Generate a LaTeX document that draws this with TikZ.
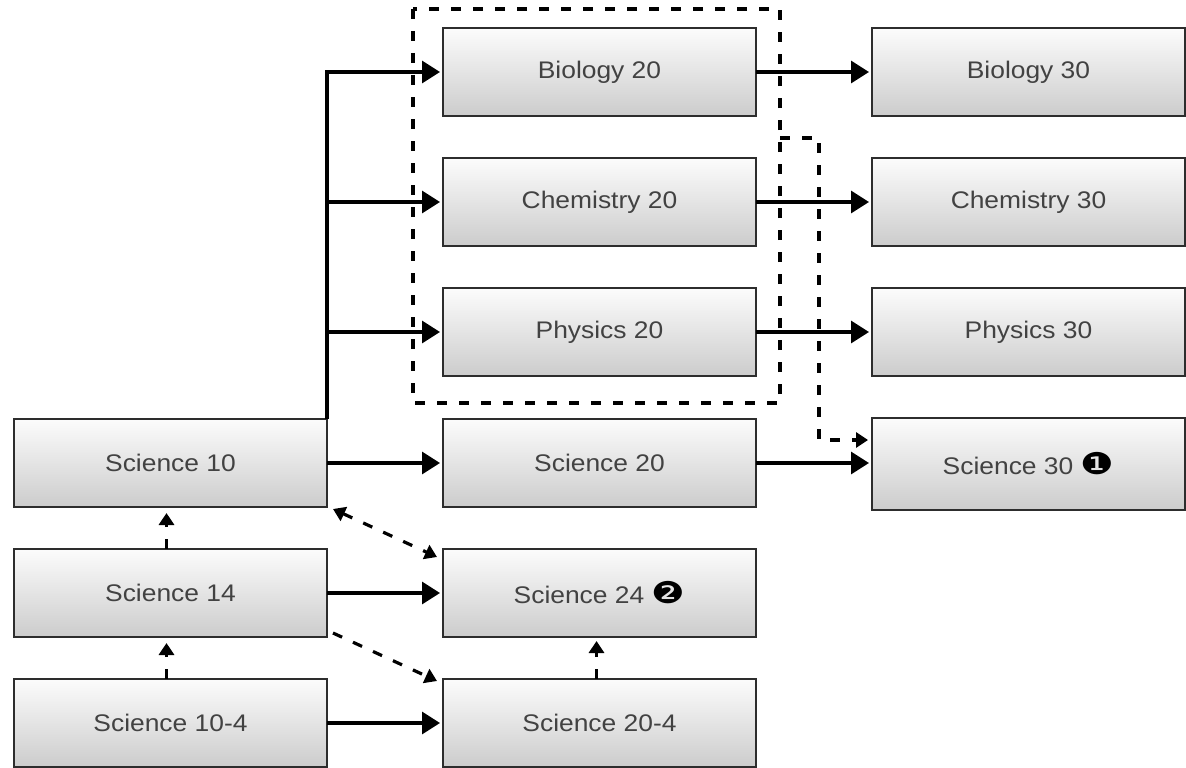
\documentclass[tikz,border=0pt]{standalone}
\usepackage{fontspec}
\setmainfont[FakeStretch=1.1]{Liberation Sans}
\newfontfamily\dejavu{DejaVu Sans}
\usetikzlibrary{arrows.meta,calc}
\definecolor{boxline}{RGB}{45,45,45}
\definecolor{txt}{RGB}{66,66,66}
\definecolor{boxtop}{RGB}{252,252,252}
\definecolor{boxbot}{RGB}{204,204,204}
\newcommand{\mk}[1]{\raisebox{0pt}{\scalebox{1.25}[1]{\textcolor{black}{\dejavu\fontsize{30}{30}\selectfont #1}}}}
\tikzset{
  course/.style={draw=boxline, line width=1.7pt, top color=boxtop, bottom color=boxbot,
    minimum width=313pt, minimum height=88pt, inner sep=0pt, outer sep=0pt, text=txt,
    font=\fontsize{24}{24}\selectfont, anchor=north west},
  solidarrow/.style={line width=3.2pt, -{Triangle[length=18pt,width=22pt]}, shorten >=3pt},
  solidline/.style={line width=3.2pt},
  dasharrow/.style={line width=3.2pt, dash pattern=on 10pt off 12pt, -{Triangle[length=12pt,width=15pt]}},
  dashbidir/.style={line width=3.2pt, dash pattern=on 10pt off 12pt, {Triangle[length=12pt,width=15pt]}-{Triangle[length=12pt,width=15pt]}},
  groupframe/.style={line width=3.2pt, dash pattern=on 10pt off 12pt},
}
\begin{document}
\begin{tikzpicture}[x=1pt,y=-1pt]
\useasboundingbox (0,0) rectangle (1186,768);
\fill[white] (0,0) rectangle (1186,768);

% group frame
\coordinate (grpNW) at (413,9);
\coordinate (grpSE) at (780,403);
\draw[groupframe] (grpNW) rectangle (grpSE);

% nodes
\node[course] (bio20) at (443,28) {Biology 20};
\node[course] (bio30) at (872,28) {Biology 30};
\node[course] (chem20) at (443,158) {Chemistry 20};
\node[course] (chem30) at (872,158) {Chemistry 30};
\node[course] (phys20) at (443,288) {Physics 20};
\node[course] (phys30) at (872,288) {Physics 30};
\node[course] (sci10) at (14,419) {Science 10};
\node[course] (sci20) at (443,419) {Science 20};
\node[course, minimum height=92pt] (sci30) at (872,418) {Science 30 \mk{❶}};
\node[course] (sci14) at (14,549) {Science 14};
\node[course] (sci24) at (443,549) {Science 24 \mk{❷}};
\node[course] (sci104) at (14,679) {Science 10-4};
\node[course] (sci204) at (443,679) {Science 20-4};

% trunk from Science 10
\draw[solidline] (sci10.north east) -- (sci10.north east |- bio20.west);
\draw[solidarrow] (sci10.north east) |- (bio20.west);
\draw[solidarrow] (sci10.north east) |- (chem20.west);
\draw[solidarrow] (sci10.north east) |- (phys20.west);
\draw[solidarrow] (sci10.east) -- (sci20.west);

% 20 -> 30
\draw[solidarrow] (bio20.east) -- (bio30.west);
\draw[solidarrow] (chem20.east) -- (chem30.west);
\draw[solidarrow] (phys20.east) -- (phys30.west);
\draw[solidarrow] (sci20.east) -- (sci20.east -| sci30.west);

% lower rows
\draw[solidarrow] (sci14.east) -- (sci24.west);
\draw[solidarrow] (sci104.east) -- (sci204.west);

% dashed connector from group to Science 30
\coordinate (dstart) at (780,138);
\coordinate (bend) at (819,440);
\draw[dasharrow, shorten >=4pt] (dstart) -| (bend) -- (bend -| sci30.west);

% dashed vertical arrows
\draw[dasharrow, shorten >=6pt] ([xshift=-4pt]sci14.north) -- ([xshift=-4pt]sci10.south);
\draw[dasharrow, shorten >=6pt] ([xshift=-4pt]sci104.north) -- ([xshift=-4pt]sci14.south);
\draw[dasharrow, shorten >=4pt] ([xshift=-3pt]sci204.north) -- ([xshift=-3pt]sci24.south);

% dashed diagonals
\draw[dashbidir] ($(sci10.south east)+(6,2)$) -- ($(sci24.north west)+(-6,8)$);
\draw[dasharrow] ($(sci14.south east)+(6,-4)$) -- ($(sci204.north west)+(-6,2)$);
\end{tikzpicture}
\end{document}
